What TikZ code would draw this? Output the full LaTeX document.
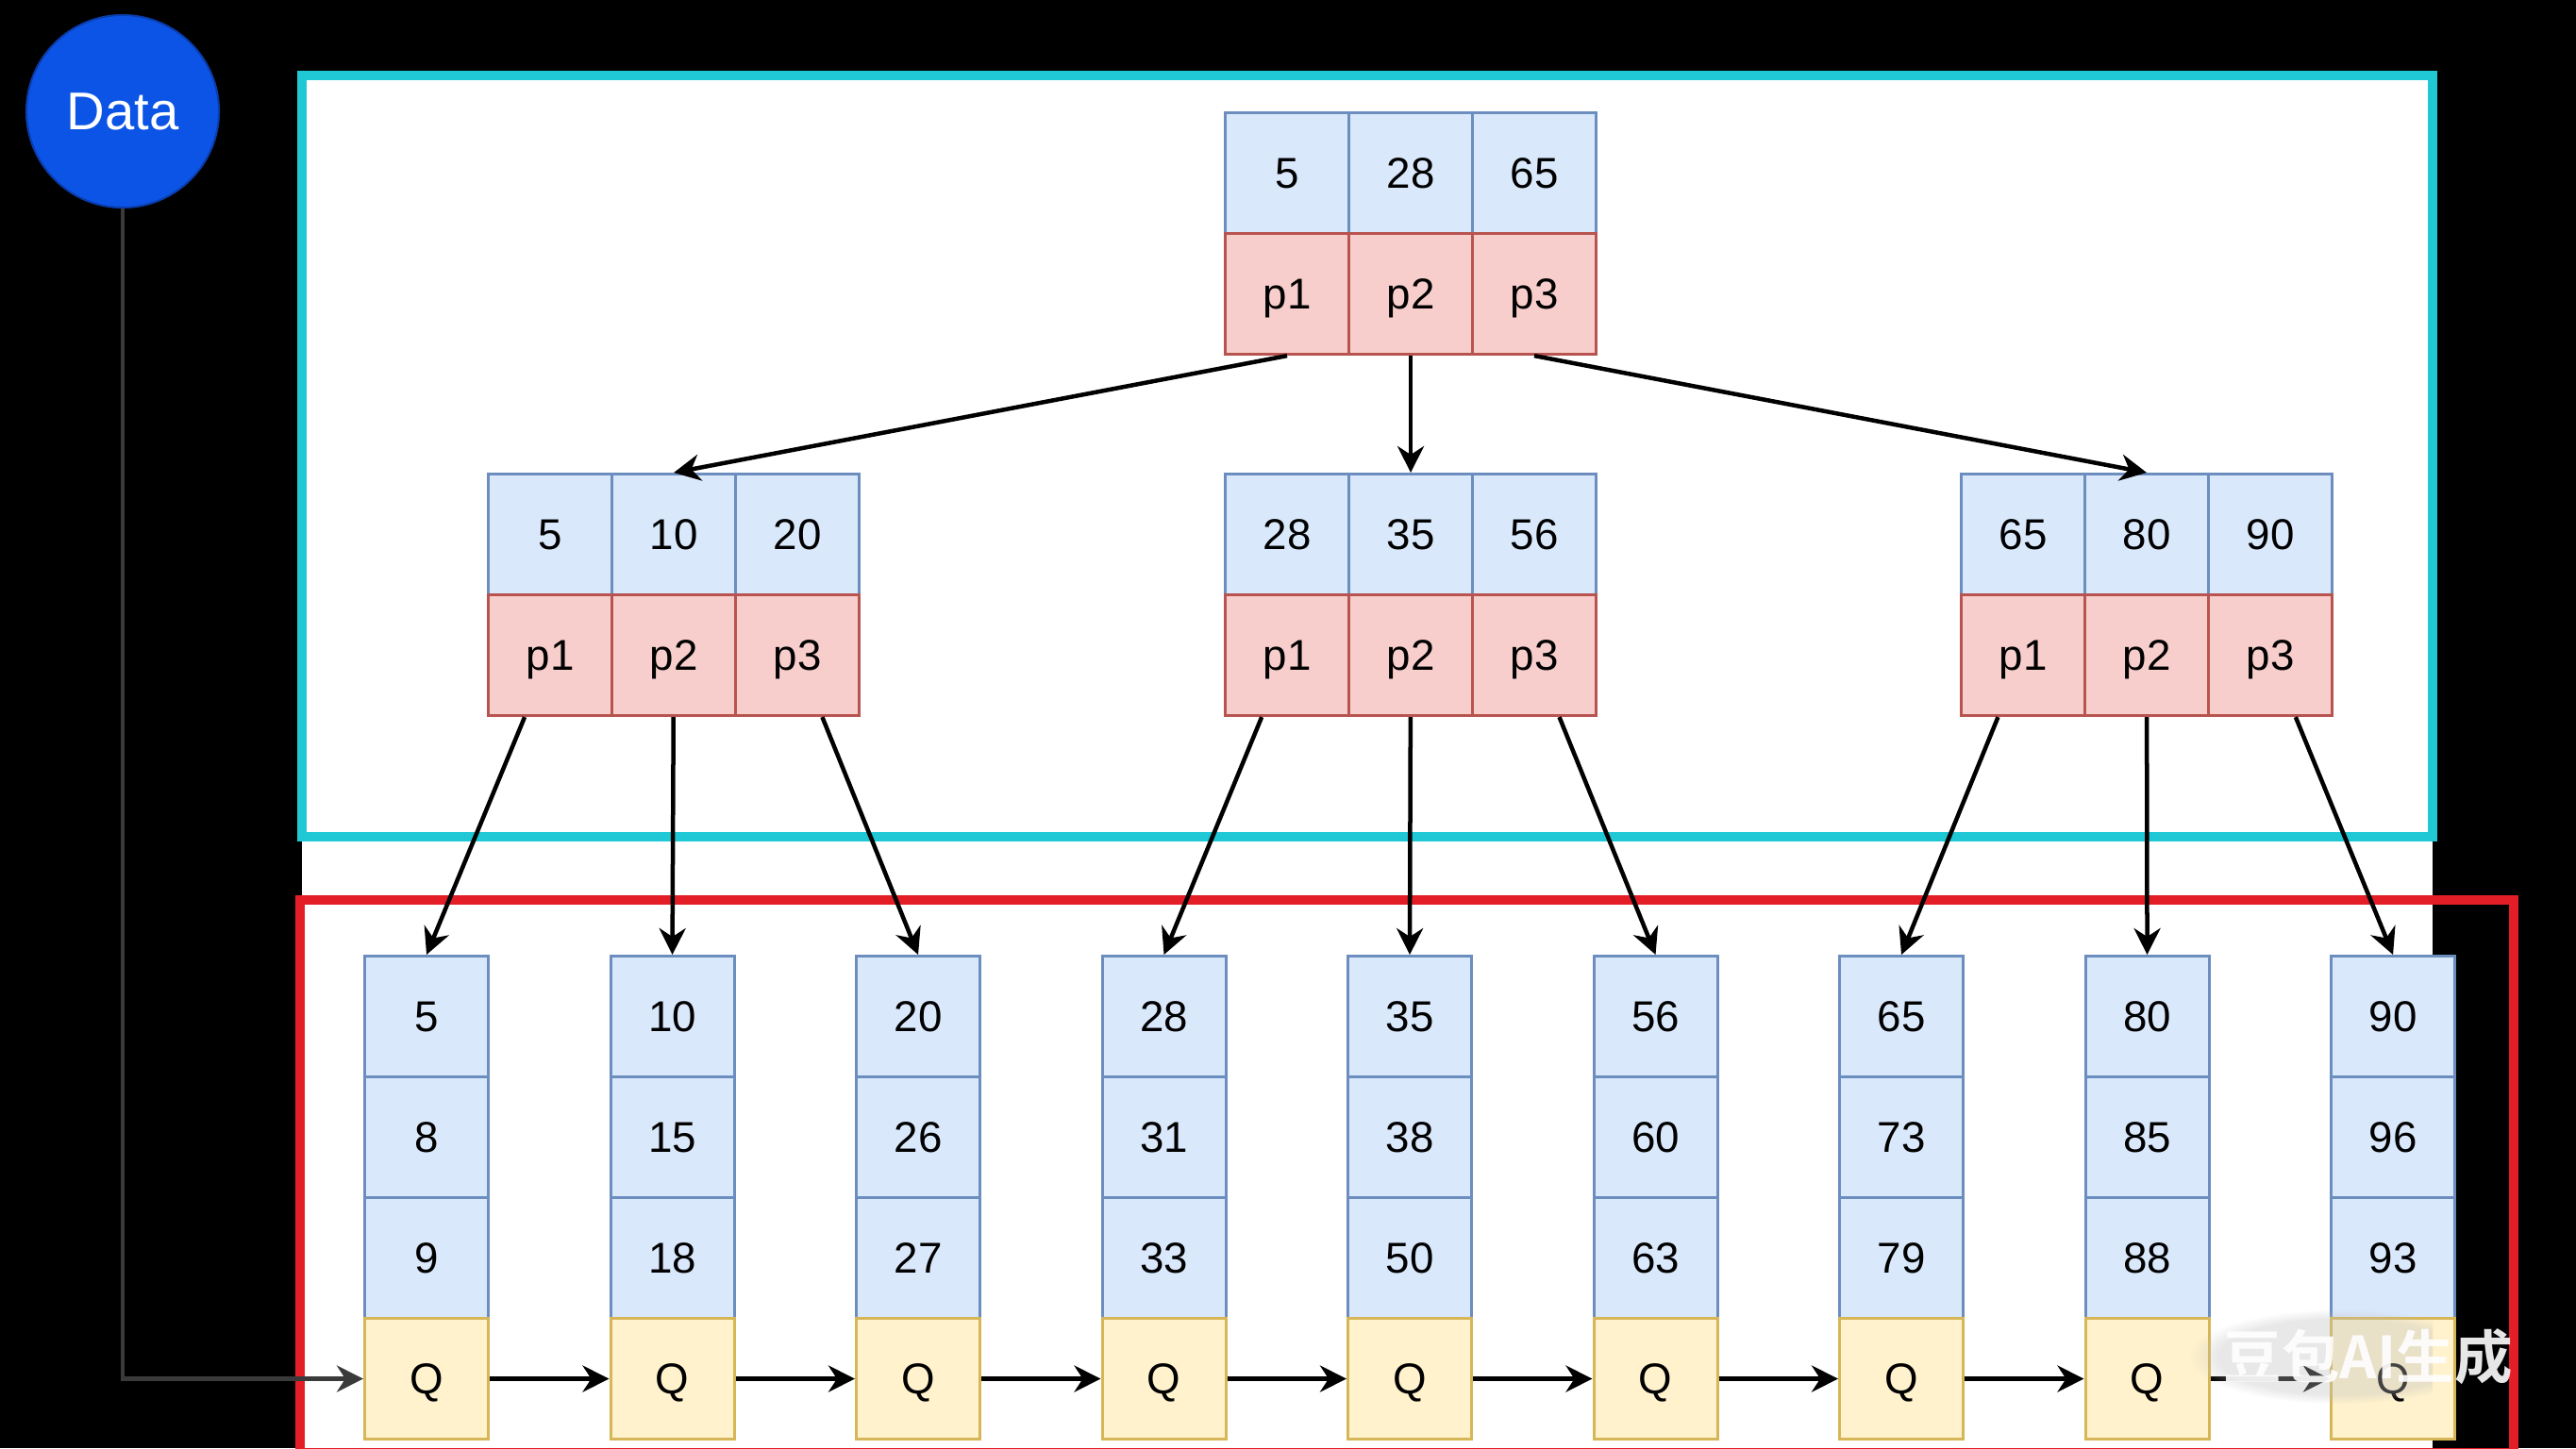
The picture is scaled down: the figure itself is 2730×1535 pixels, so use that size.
\documentclass[tikz,border=0pt]{standalone}
\usepackage{fontspec}
\setmainfont{Liberation Sans}
\newfontfamily\cjk{Noto Sans CJK SC}[BoldFont={Noto Sans CJK SC Bold}]
\usetikzlibrary{arrows.meta,calc,fadings}
\definecolor{kfill}{HTML}{DAE8FC}
\definecolor{kdraw}{HTML}{6C8EBF}
\definecolor{pfill}{HTML}{F8CECC}
\definecolor{pdraw}{HTML}{B85450}
\definecolor{qfill}{HTML}{FFF2CC}
\definecolor{qdraw}{HTML}{D6B656}
\definecolor{tealc}{RGB}{32,200,214}
\definecolor{redc}{RGB}{228,30,38}
\definecolor{datac}{RGB}{12,84,230}
\definecolor{datad}{RGB}{10,60,170}
\definecolor{linkc}{RGB}{58,58,58}
\begin{document}
\begin{tikzpicture}[x=0.01cm,y=-0.01cm,
  cell/.style={minimum width=1.31cm,minimum height=1.28cm,inner sep=0pt,anchor=north west,
    line width=0.03cm,font=\fontsize{13}{13}\selectfont,text height=9.3pt,text depth=0pt},
  kcell/.style={cell,fill=kfill,draw=kdraw},
  pcell/.style={cell,fill=pfill,draw=pdraw},
  qcell/.style={cell,fill=qfill,draw=qdraw},
  edge/.style={line width=0.045cm,-{Stealth[length=0.28cm,width=0.28cm,inset=0.09cm]}},
  frame/.style={line width=0.1cm}]
\useasboundingbox (0,0) rectangle (2730,1535);
\fill[black] (0,0) rectangle (2730,1535);
\fill[white] (320,80) rectangle (2578,1535);
\draw[frame,tealc] (320,80) rectangle (2578,887);
\draw[frame,redc] (318,954) rectangle (2664,1540);

% root
\foreach \v [count=\i] in {5,28,65}
  \node[kcell] (r-k\i) at ({1297+131*(\i-1)},118) {\v};
\foreach \i in {1,2,3}
  \node[pcell] (r-p\i) at ({1297+131*(\i-1)},246) {p\i};

% level 2
\foreach \n/\x/\va/\vb/\vc in {a/516/5/10/20, b/1297/28/35/56, c/2077/65/80/90}{
  \node[kcell] (\n-k1) at (\x,501) {\va};
  \node[kcell] (\n-k2) at ({\x+131},501) {\vb};
  \node[kcell] (\n-k3) at ({\x+262},501) {\vc};
  \foreach \i in {1,2,3}
    \node[pcell] (\n-p\i) at ({\x+131*(\i-1)},629) {p\i};
}

% leaves
\foreach \a/\b/\c [count=\i] in {5/8/9,10/15/18,20/26/27,28/31/33,35/38/50,56/60/63,65/73/79,80/85/88,90/96/93}{
  \pgfmathsetmacro\lx{385+260.5*(\i-1)}
  \node[kcell] (L\i-1) at (\lx,1012) {\a};
  \node[kcell] (L\i-2) at (\lx,1140) {\b};
  \node[kcell] (L\i-3) at (\lx,1268) {\c};
  \node[qcell] (Q\i) at (\lx,1396) {Q};
}

% data
\node[circle,fill=datac,draw=datad,line width=0.02cm,minimum size=2.04cm,inner sep=0pt,
  text=white,font=\fontsize{16}{16}\selectfont] (data) at (130,118) {Data};

% edges
\draw[edge] (r-p1.south) -- (a-k2.north);
\draw[edge] (r-p2.south) -- (b-k2.north);
\draw[edge] (r-p3.south) -- (c-k2.north);
\draw[edge] (a-p1) -- (L1-1.north);
\draw[edge] (a-p2) -- (L2-1.north);
\draw[edge] (a-p3) -- (L3-1.north);
\draw[edge] (b-p1) -- (L4-1.north);
\draw[edge] (b-p2) -- (L5-1.north);
\draw[edge] (b-p3) -- (L6-1.north);
\draw[edge] (c-p1) -- (L7-1.north);
\draw[edge] (c-p2) -- (L8-1.north);
\draw[edge] (c-p3) -- (L9-1.north);
\foreach \i [evaluate=\i as \j using {int(\i+1)}] in {1,...,8}
  \draw[edge] (Q\i.east) -- (Q\j.west);
\draw[edge,draw=linkc] (data.south) |- (Q1.west);

% watermark with soft glow
\begin{scope}
  \clip (2300,1340) rectangle (2578,1535);
  \fill[black!25,opacity=0.35,path fading=circle with fuzzy edge 20 percent]
    (2480,1438) ellipse [x radius=1.6cm, y radius=0.5cm];
\end{scope}
\node[text=white,opacity=0.9,font=\cjk\bfseries\fontsize{17.5}{17.5}\selectfont,anchor=west,inner sep=0pt]
  (wm) at (2356,1438) {豆包AI生成};
\end{tikzpicture}
\end{document}
